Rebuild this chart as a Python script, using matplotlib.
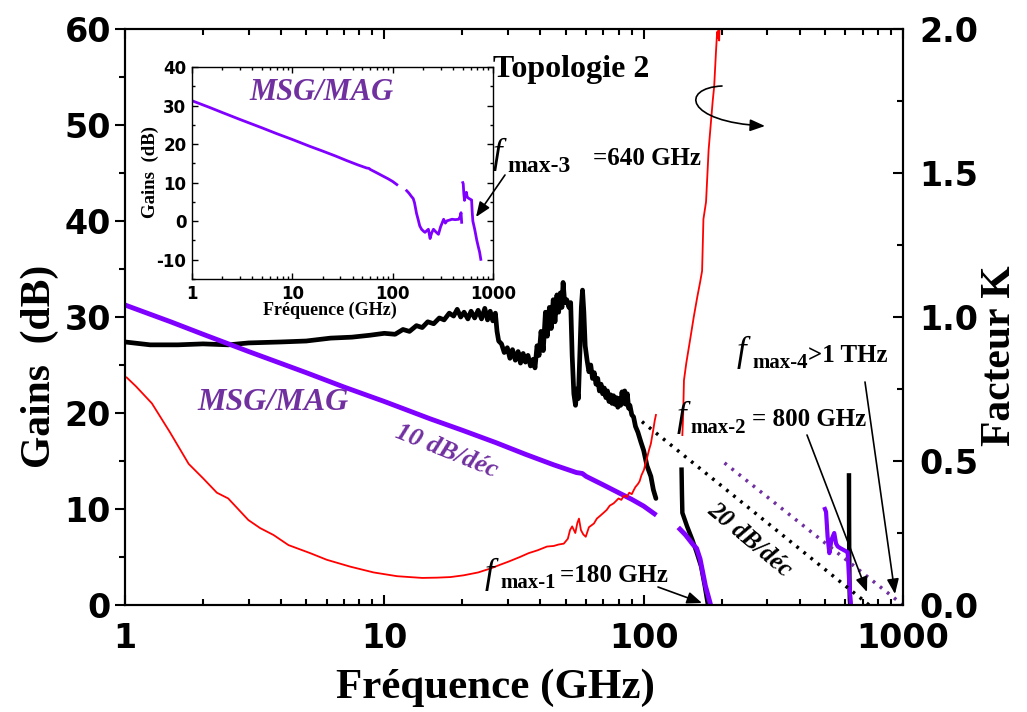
import matplotlib
matplotlib.use('Agg')
import matplotlib.pyplot as plt
import numpy as np
from matplotlib.path import Path
from matplotlib.patches import FancyArrowPatch
from matplotlib.ticker import MultipleLocator, NullFormatter, LogLocator

plt.rcParams['axes.unicode_minus'] = False

# ---------------- data ----------------
# MSG/MAG (dB) - low frequency part
msg1_f = [1, 1.5, 2, 3, 5, 7, 10, 15, 20, 27, 35, 45, 55, 58, 60, 70, 80, 90, 100, 110]
msg1_db = [31.25, 29.5, 28.2, 26.4, 24.2, 22.7, 21.2, 19.4, 18.2, 16.9, 15.7, 14.6, 13.8, 13.7, 13.4, 12.5, 11.7, 11.0, 10.3, 9.5]
# MSG/MAG second segment
msg2_f = [138, 145, 155, 160, 165, 173, 180, 186, 194, 203, 210, 220, 227, 236, 245, 255, 270, 286,
          300, 322, 335, 348, 370, 390, 420, 455, 470, 480, 487]
msg2_db = [7.9, 7.3, 6.3, 5.9, 4.8, 2.0, 0.3, -1.2, -2.1, -2.6, -2.9, -2.4, -2.1, -4.5, -3.0, -2.1, -2.8, -3.4,
           -1.5, 0.5, -0.5, 0.1, 0.3, 0.5, 0.4, 0.5, 1.2, 2.2, -0.3]
# MSG/MAG third segment
msg3_f = [500, 505, 512, 520, 530, 543, 552, 560, 575, 593, 603, 612, 620, 630, 657, 690, 710, 735, 756]
msg3_db = [10.0, 9.7, 7.1, 5.4, 6.8, 7.5, 6.4, 6.1, 5.9, 5.7, 5.6, 5.5, 2.5, 0.0, -2.1, -5.0, -6.4, -8.0, -9.9]

# black gain curve (dB)
blk1_f = [1, 1.25, 1.6, 2.0, 2.5, 3.0, 4.0, 5.0, 6.2, 7.5, 8.8, 10, 11, 11.8, 12.5, 13.3, 14, 14.7, 15.5,
          16.3, 17, 17.8, 18.5, 19.1, 19.7, 20.3, 21, 21.6, 22.3, 23, 23.7, 24.4, 25, 25.6, 26.2, 26.8,
          27.2, 27.6, 28.3, 29, 29.8, 30.5, 31.2, 32, 32.8, 33.5, 34.3, 35, 35.8, 36.6, 37.5, 38.1, 38.8,
          39.5, 40.2, 41, 41.8, 42.5, 43.3, 44, 44.8, 45.5, 46.3, 47, 47.7, 48.4, 48.9, 49.6, 50.5, 51.5,
          52.3, 53, 53.8, 54.6, 55.3, 56, 56.8, 57.5, 58.1, 58.8, 59.5, 60.5, 61.5, 62.5, 63.5, 64.5, 65.5,
          66.5, 67.5, 68.5, 69.5, 70.5, 71.5, 72.5, 73.5, 74.5, 75.5, 76.5, 77.5, 78.5, 79.5, 80.5, 81.5,
          82.5, 83.5, 84.5, 85.5, 86.5, 87.5, 88.5, 90, 91.4, 93, 95, 97.5, 100, 103, 106.6, 109, 111.5]
blk1_db = [27.4, 27.1, 27.1, 27.2, 27.1, 27.3, 27.4, 27.5, 27.8, 27.9, 28.1, 28.3, 28.2, 28.7, 28.5, 29.1, 28.9, 29.5, 29.3,
           29.9, 29.7, 30.4, 30.1, 30.8, 30.0, 30.5, 29.8, 30.6, 29.9, 30.7, 29.8, 30.9, 29.7, 30.6, 29.6, 30.4,
           28.5, 27.5, 27.2, 26.3, 26.8, 25.7, 26.6, 25.5, 26.4, 25.2, 26.2, 25.3, 26.0, 24.9, 25.6, 24.7, 27.0,
           26.0, 28.5, 26.5, 30.5, 28.0, 31.0, 28.8, 31.8, 29.5, 32.3, 30.5, 32.5, 31.0, 33.6, 31.5, 31.8, 31.0,
           31.5, 26.0, 22.0, 20.8, 22.5, 21.5, 26.5, 31.0, 32.8, 30.5, 27.0, 25.5, 24.3, 25.0, 23.6, 24.2, 23.0,
           23.6, 22.3, 23.0, 22.0, 22.6, 21.6, 22.3, 21.2, 21.9, 21.0, 21.8, 20.9, 21.6, 20.6, 21.5, 20.8,
           22.2, 21.0, 22.3, 20.9, 22.0, 20.5, 20.8, 19.8, 19.6, 18.6, 18.0, 17.0, 16.1, 14.5, 13.4, 12.0, 11.1]
blk2_f = [140, 140.5, 141, 147, 154, 160, 166.6, 172, 177]
blk2_db = [14.1, 11.5, 9.6, 8.2, 6.8, 5.5, 4.0, 2.0, 0.0]
blk3_f = [619, 619.5, 620.5, 622, 624, 626]
blk3_db = [13.5, 9.0, 5.0, 2.0, 0.5, 0.0]

# stability factor K (right axis)
k1_f = [1.015, 1.1, 1.27, 1.49, 1.76, 2.0, 2.26, 2.5, 2.99, 3.32, 3.74, 4.27, 5.18, 6.0, 7.4, 9.1, 11.2, 12.5,
        14, 16, 18, 20.2, 23, 25.7, 28, 30, 33.4, 36, 39, 42.4, 45, 47, 49.2, 51, 52, 53, 54.5, 55.5, 56.3,
        57.3, 58.5, 59.8, 61.5, 64.3, 66, 68, 70, 72, 74, 76.6, 78, 80, 82, 84, 86, 88, 90, 91.7, 93, 95,
        96.5, 98, 100.3, 101.5, 103, 105, 106.6, 108, 109, 110.3, 111.5]
k1 = [0.79, 0.76, 0.70, 0.60, 0.49, 0.44, 0.39, 0.37, 0.295, 0.267, 0.243, 0.208, 0.18, 0.157, 0.133, 0.113, 0.10, 0.097,
      0.094, 0.095, 0.097, 0.103, 0.113, 0.127, 0.14, 0.15, 0.167, 0.18, 0.19, 0.203, 0.205, 0.21, 0.213, 0.23, 0.26, 0.273, 0.25, 0.285, 0.30,
      0.26, 0.245, 0.237, 0.27, 0.283, 0.30, 0.31, 0.32, 0.33, 0.345, 0.353, 0.36, 0.37, 0.365, 0.38, 0.375, 0.39, 0.385, 0.40, 0.41, 0.42,
      0.43, 0.45, 0.47, 0.49, 0.51, 0.54, 0.56, 0.59, 0.61, 0.64, 0.66]
k2_f = [141, 142, 143, 146, 151.6, 156, 161, 165, 168, 170, 174, 178, 184.6, 187, 190, 192, 193, 194.5, 195.5, 196.5]
k2 = [0.59, 0.66, 0.78, 0.84, 0.93, 1.0, 1.07, 1.12, 1.16, 1.34, 1.40, 1.58, 1.75, 1.80, 1.92, 1.99, 1.97, 2.0, 1.96, 2.02]

# extrapolation lines (dB)
ext20_f = [98.5, 740]
ext20_db = [19.1, 0.0]
ext20b_f = [205, 1000]
ext20b_db = [14.8, 0.0]

x_ticks = [1, 10, 100, 1000]
x_ticklabels = ['1', '10', '100', '1000']
yl_ticks = [0, 10, 20, 30, 40, 50, 60]
yr_ticks = [0.0, 0.5, 1.0, 1.5, 2.0]
yi_ticks = [-10, 0, 10, 20, 30, 40]

# ---------------- figure ----------------
W, H = 1027, 712
fig = plt.figure(figsize=(W / 100, H / 100), dpi=100)

def fx(x):
    return x / W

def fy(y):
    return 1 - y / H

SERIF = 'Liberation Serif'
PURPLE_LINE = '#8000FF'
PURPLE_TXT = '#7030A0'

ax = fig.add_axes([fx(125), fy(605), (903 - 125) / W, (605 - 29) / H])
ax.set_xscale('log')
ax.set_xlim(1, 1000)
ax.set_ylim(0, 60)

ax.plot(blk1_f, blk1_db, color='k', lw=3.4, solid_capstyle='round', solid_joinstyle='round')
ax.plot(blk2_f, blk2_db, color='k', lw=3.2)
ax.plot(blk3_f, blk3_db, color='k', lw=3.2)
ax.plot(msg1_f, msg1_db, color=PURPLE_LINE, lw=3.5)
ax.plot(msg2_f[:8], msg2_db[:8], color=PURPLE_LINE, lw=3.5)
ax.plot(msg3_f[:15], msg3_db[:15], color=PURPLE_LINE, lw=3.0)
ax.plot(ext20_f, ext20_db, color='k', lw=2.5, linestyle=(0, (0.8, 1.8)))
ax.plot(ext20b_f, ext20b_db, color=PURPLE_TXT, lw=2.5, linestyle=(0, (0.8, 1.8)))

ax.set_xticks(x_ticks)
ax.set_xticklabels(x_ticklabels)
ax.xaxis.set_minor_locator(LogLocator(base=10, subs=np.arange(2, 10)))
ax.xaxis.set_minor_formatter(NullFormatter())
ax.set_yticks(yl_ticks)
ax.yaxis.set_minor_locator(MultipleLocator(5))
ax.tick_params(axis='x', which='both', direction='in', top=True, bottom=True, width=1.5, pad=12)
ax.tick_params(axis='x', which='major', length=7)
ax.tick_params(axis='x', which='minor', length=4)
ax.tick_params(axis='y', which='both', direction='out', left=True, right=False, width=1.5, pad=3)
ax.tick_params(axis='y', which='major', length=7)
ax.tick_params(axis='y', which='minor', length=4)
for lab in ax.get_xticklabels() + ax.get_yticklabels():
    lab.set_fontfamily('DejaVu Sans')
    lab.set_fontweight('bold')
    lab.set_fontsize(24)
for s in ax.spines.values():
    s.set_linewidth(1.5)

ax.set_xlabel('Fréquence (GHz)', fontfamily=SERIF, fontweight='bold', fontsize=31)
ax.xaxis.set_label_coords((495 - 125) / 778, (605 - 688) / 576)
ax.xaxis.label.set_va('center')
ax.set_ylabel('Gains  (dB)', fontfamily=SERIF, fontweight='bold', fontsize=30)
ax.yaxis.set_label_coords((40 - 125) / 778, (605 - 366) / 576)
ax.yaxis.label.set_va('center')

ax2 = ax.twinx()
ax2.set_ylim(0, 2.0)
ax2.plot(k1_f, k1, color='red', lw=1.3)
ax2.plot(k2_f, k2, color='red', lw=1.3)
ax2.set_yticks(yr_ticks)
ax2.set_yticklabels(['%.1f' % v for v in yr_ticks])
ax2.yaxis.set_minor_locator(MultipleLocator(0.25))
ax2.tick_params(axis='y', which='both', direction='in', right=True, width=1.5, pad=12)
ax2.tick_params(axis='y', which='major', length=7)
ax2.tick_params(axis='y', which='minor', length=4)
for lab in ax2.get_yticklabels():
    lab.set_fontfamily('DejaVu Sans')
    lab.set_fontweight('bold')
    lab.set_fontsize(24)
for s in ax2.spines.values():
    s.set_linewidth(1.5)
ax2.set_ylabel('Facteur K', fontfamily=SERIF, fontweight='bold', fontsize=30)
ax2.yaxis.set_label_coords((1000 - 125) / 778, (605 - 356) / 576)
ax2.yaxis.label.set_va('center')

# text in main plot
fig.text(fx(273), fy(403), 'MSG/MAG', fontfamily=SERIF, fontweight='bold', style='italic',
         fontsize=23, color=PURPLE_TXT, ha='center', va='center')
fig.text(fx(447), fy(451), '10 dB/déc', fontfamily=SERIF, fontweight='bold', style='italic',
         fontsize=19, color=PURPLE_TXT, ha='center', va='center', rotation=-22, rotation_mode='anchor')
fig.text(fx(750), fy(540), '20 dB/déc', fontfamily=SERIF, fontweight='bold', style='italic',
         fontsize=18, color='k', ha='center', va='center', rotation=-40, rotation_mode='anchor')
fig.text(fx(493), fy(77), 'Topologie 2', fontfamily=SERIF, fontweight='bold', fontsize=23,
         ha='left', va='baseline')


def fmax_label(fx0, base_f, sub_x, sub_base, rest_x, rest_base, sub, rest, sub_size=15):
    fig.text(fx(fx0), fy(base_f), 'f', fontfamily=SERIF, style='italic', fontsize=25,
             ha='left', va='baseline')
    fig.text(fx(sub_x), fy(sub_base), sub, fontfamily=SERIF, fontweight='bold', fontsize=sub_size,
             ha='left', va='baseline')
    fig.text(fx(rest_x), fy(rest_base), rest, fontfamily=SERIF, fontweight='bold', fontsize=18,
             ha='left', va='baseline')


fmax_label(485, 583, 500, 588, 560, 582, 'max-1', '=180 GHz')
fmax_label(677, 426, 690, 433, 752, 426, 'max-2', '= 800 GHz')
fmax_label(737, 361, 752, 368, 808, 362, 'max-4', '>1 THz')
fmax_label(493, 163, 507, 172, 593, 165, 'max-3', '=640 GHz', sub_size=17)


def arrow(x1, y1, x2, y2):
    a = FancyArrowPatch(posA=(fx(x1), fy(y1)), posB=(fx(x2), fy(y2)), transform=fig.transFigure,
                        arrowstyle='-|>,head_length=0.45,head_width=0.18', mutation_scale=20,
                        lw=1.2, color='k', shrinkA=0, shrinkB=0)
    fig.add_artist(a)


arrow(658, 587, 702, 603)
arrow(807, 435, 867, 592)
arrow(865, 382, 895, 594)
arrow(505, 175, 476, 217)

curve = Path([(fx(722), fy(86)), (fx(680), fy(88)), (fx(685), fy(122)), (fx(765), fy(126))],
             [Path.MOVETO, Path.CURVE4, Path.CURVE4, Path.CURVE4])
fig.add_artist(FancyArrowPatch(path=curve, transform=fig.transFigure,
                               arrowstyle='-|>,head_length=0.45,head_width=0.18', mutation_scale=20,
                               lw=1.2, color='k'))

# ---------------- inset ----------------
axi = fig.add_axes([fx(192), fy(279), (493 - 192) / W, (279 - 67) / H])
axi.set_xscale('log')
axi.set_xlim(1, 1000)
axi.set_ylim(-15, 40)
axi.plot(msg1_f, msg1_db, color=PURPLE_LINE, lw=2)
axi.plot(msg2_f, msg2_db, color=PURPLE_LINE, lw=2)
axi.plot(msg3_f, msg3_db, color=PURPLE_LINE, lw=2)
axi.set_xticks(x_ticks)
axi.set_xticklabels(x_ticklabels)
axi.xaxis.set_minor_locator(LogLocator(base=10, subs=np.arange(2, 10)))
axi.xaxis.set_minor_formatter(NullFormatter())
axi.set_yticks(yi_ticks)
axi.yaxis.set_minor_locator(MultipleLocator(5))
axi.tick_params(axis='x', which='both', direction='in', top=True, bottom=True, width=1, pad=4)
axi.tick_params(axis='y', which='both', direction='in', left=True, right=True, width=1, pad=4)
axi.tick_params(which='major', length=4)
axi.tick_params(which='minor', length=2.5)
for lab in axi.get_xticklabels() + axi.get_yticklabels():
    lab.set_fontfamily('DejaVu Sans')
    lab.set_fontweight('bold')
    lab.set_fontsize(12)
for s in axi.spines.values():
    s.set_linewidth(1.0)
axi.set_xlabel('Fréquence (GHz)', fontfamily=SERIF, fontweight='bold', fontsize=13)
axi.xaxis.set_label_coords((330 - 192) / 301, (279 - 310) / 212)
axi.xaxis.label.set_va('center')
axi.set_ylabel('Gains  (dB)', fontfamily=SERIF, fontweight='bold', fontsize=13.5)
axi.yaxis.set_label_coords((150 - 192) / 301, (279 - 172) / 212)
axi.yaxis.label.set_va('center')
axi.text(0.43, 0.88, 'MSG/MAG', transform=axi.transAxes, fontfamily=SERIF, fontweight='bold',
         style='italic', fontsize=22, color=PURPLE_TXT, ha='center', va='center')

fig.savefig('out.png', dpi=100)
